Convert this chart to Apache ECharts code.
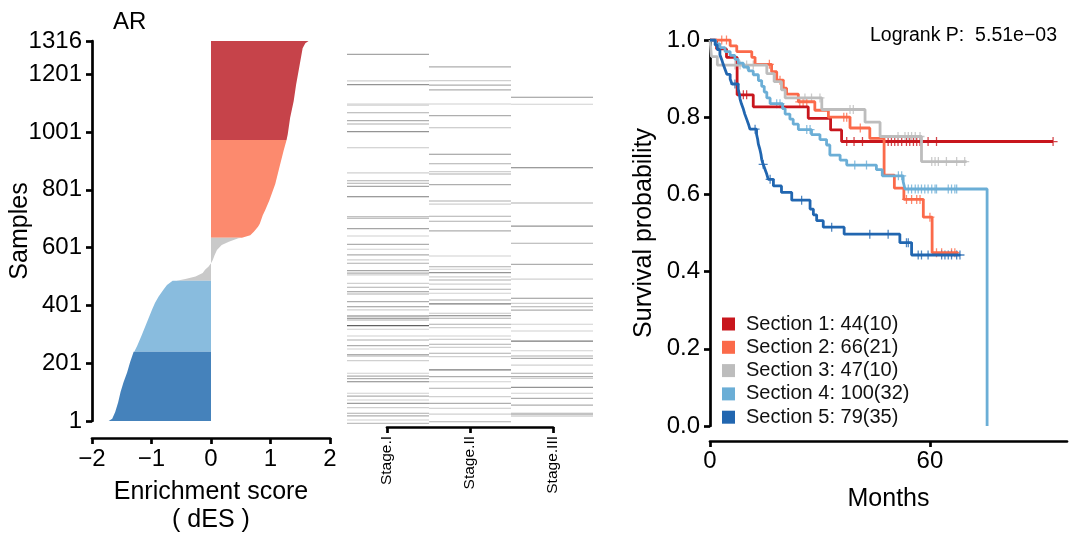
<!DOCTYPE html>
<html><head><meta charset="utf-8">
<script src="https://cdn.jsdelivr.net/npm/echarts@6/dist/echarts.min.js"></script>
<style>html,body{margin:0;padding:0;background:#fff}#c{width:1069px;height:539px}</style>
</head><body><div id="c"></div>
<script>
// ---------- labels / ticks ----------
const sectionNames = ['Section 1: 44(10)','Section 2: 66(21)','Section 3: 47(10)','Section 4: 100(32)','Section 5: 79(35)'];
const kmColors  = ['#C8161D','#FB6A4A','#BDBDBD','#6BAED6','#2166B0'];
const barColors = ['#C6434A','#FC8A6E','#C9C9C9','#89BCDE','#4582BB'];
const sampleTicks = [1,201,401,601,801,1001,1201,1316];
const stages = ['Stage.I','Stage.II','Stage.III'];
const monthTicks = [0,60];

// ---------- waterfall edge: [sample, dES] ----------
const desSection5 = [[1,-1.72],[9,-1.66],[32,-1.61],[66,-1.56],[101,-1.52],[135,-1.47],[169,-1.41],[204,-1.36],[241,-1.30]];
const desSection4 = [[241,-1.29],[261,-1.24],[295,-1.17],[341,-1.08],[387,-0.99],[410,-0.94],[432,-0.88],[455,-0.80],[472,-0.74],[486,-0.645]];
const desSection3 = [[486,-0.58],[492,-0.43],[501,-0.26],[513,-0.14],[524,-0.10],[536,-0.04],[547,0.0],[558,0.03],[575,0.06],[593,0.10],[610,0.18],[621,0.30],[633,0.46],[635,0.52]];
const desSection2 = [[635,0.52],[644,0.66],[656,0.72],[673,0.79],[684,0.82],[713,0.87],[730,0.91],[764,0.98],[821,1.08],[879,1.15],[936,1.22],[973,1.27]];
const desSection1 = [[973,1.27],[993,1.29],[1050,1.33],[1108,1.39],[1165,1.43],[1222,1.48],[1291,1.54],[1308,1.585],[1316,1.64]];

// ---------- stage heatmap: [sample, intensity] ----------
const heatStage1 = [[1311,0.5],[1217,0.25],[1204,0.6],[1135,0.25],[1131,0.25],[1104,0.45],[1076,0.45],[1064,0.45],[1037,0.6],[980,0.3],[891,0.25],[863,0.45],[854,0.45],[843,0.5],[806,0.75],[735,0.45],[730,0.45],[693,0.5],[667,0.25],[637,0.45],[620,0.25],[600,0.45],[582,0.25],[570,0.45],[544,0.5],[535,0.45],[529,0.25],[499,0.25],[485,0.45],[469,0.6],[461,0.45],[434,0.45],[416,0.6],[405,0.25],[383,0.75],[375,0.7],[369,0.45],[349,0.9],[336,0.25],[312,0.25],[298,0.45],[278,0.45],[266,0.25],[246,0.45],[241,0.45],[225,0.25],[180,0.25],[170,0.45],[161,0.45],[150,0.7],[109,0.25],[99,0.45],[85,0.25],[73,0.55],[58,0.25],[38,0.45],[29,0.45],[14,0.25],[2,0.35]];
const heatStage2 = [[1267,0.45],[1218,0.25],[1202,0.45],[1185,0.45],[1135,0.25],[1094,0.45],[1051,0.35],[957,0.6],[923,0.45],[895,0.25],[887,0.45],[849,0.45],[791,0.45],[780,0.25],[737,0.45],[719,0.45],[685,0.45],[596,0.25],[558,0.45],[549,0.25],[537,0.6],[522,0.25],[511,0.45],[496,0.25],[478,0.45],[464,0.25],[440,0.45],[426,0.75],[393,0.3],[384,0.75],[375,0.45],[354,0.45],[342,0.25],[312,0.25],[300,0.25],[283,0.45],[272,0.25],[251,0.45],[239,0.25],[192,0.75],[168,0.45],[150,0.25],[127,0.45],[97,0.25],[73,0.45],[56,0.3],[35,0.25],[8,0.45]];
const heatStage3 = [[1159,0.6],[1134,0.25],[909,0.75],[784,0.45],[702,0.6],[641,0.45],[566,0.45],[514,0.25],[446,0.6],[428,0.25],[416,0.45],[404,0.45],[354,0.25],[330,0.25],[294,0.75],[260,0.25],[241,0.45],[233,0.45],[209,0.25],[180,0.45],[168,0.45],[162,0.25],[130,0.6],[109,0.25],[91,0.45],[67,0.45],[38,0.45],[33,0.45],[28,0.25]];

// ---------- Kaplan-Meier steps: [month, survival] ----------
const km1 = [[0,1],[1.8,0.977],[4.5,0.955],[7.4,0.858],[11.8,0.827],[26.8,0.797],[32.9,0.767],[35.9,0.737],[93.6,0.737]];
const km2 = [[0,1],[5.5,0.985],[7.3,0.970],[11.4,0.955],[12.3,0.937],[16.8,0.918],[18.2,0.896],[20.0,0.875],[20.9,0.860],[24.1,0.840],[28.6,0.818],[32.3,0.800],[38.2,0.772],[43.6,0.745],[47.5,0.650],[50.3,0.616],[52.9,0.587],[58.2,0.541],[60.6,0.449],[67.7,0.449]];
const km3 = [[0,1],[0.4,0.957],[2.0,0.935],[15.5,0.913],[17.5,0.892],[19.5,0.871],[20.5,0.850],[30.5,0.820],[42.3,0.787],[46.4,0.750],[57.7,0.685],[70.0,0.685]];
const km4 = [[0,1],[1.5,0.99],[2.7,0.98],[4.1,0.97],[5.5,0.96],[6.8,0.95],[7.7,0.94],[9.1,0.93],[10.5,0.92],[11.8,0.91],[13.2,0.895],[14.1,0.88],[14.8,0.865],[15.5,0.85],[16.4,0.835],[19.8,0.822],[20.5,0.808],[21.8,0.795],[22.7,0.782],[24.1,0.768],[27.7,0.755],[30.0,0.742],[31.8,0.728],[32.7,0.702],[35.5,0.689],[37.3,0.676],[45.4,0.664],[47.0,0.648],[52.7,0.633],[53.2,0.614],[75.6,0.614],[75.6,0]];
const km5 = [[0,1],[1.4,0.987],[2.0,0.975],[2.7,0.962],[3.2,0.949],[3.6,0.937],[4.1,0.924],[4.6,0.911],[5.5,0.899],[6.0,0.886],[7.7,0.873],[8.0,0.86],[8.2,0.847],[8.6,0.834],[9.1,0.821],[9.5,0.808],[10.0,0.795],[10.5,0.782],[10.9,0.769],[12.7,0.756],[13.0,0.743],[13.2,0.730],[13.6,0.717],[13.9,0.704],[14.1,0.691],[14.5,0.678],[15.0,0.665],[15.5,0.652],[15.9,0.639],[17.3,0.622],[19.5,0.605],[22.3,0.585],[27.3,0.562],[28.2,0.547],[29.1,0.532],[30.9,0.515],[36.6,0.497],[51.8,0.475],[55.0,0.443],[68.2,0.443]];
const cens1 = [[9.1,0.858],[10.0,0.858],[37.3,0.737],[39.3,0.737],[41.6,0.737],[48.6,0.737],[49.5,0.737],[50.4,0.737],[51.3,0.737],[52.3,0.737],[53.6,0.737],[54.5,0.737],[55.5,0.737],[56.4,0.737],[57.3,0.737],[59.5,0.737],[61.8,0.737],[93.6,0.737]];
const cens2 = [[3.2,1],[4.5,1],[16.2,0.937],[19.1,0.896],[24.5,0.840],[25.4,0.840],[26.4,0.840],[36.5,0.800],[37.3,0.800],[41.0,0.772],[53.6,0.587],[55.0,0.587],[56.4,0.587],[57.3,0.587],[60.0,0.541],[61.8,0.449],[63.2,0.449],[65.9,0.449],[66.8,0.449]];
const cens3 = [[6.8,0.935],[8.2,0.935],[10.0,0.935],[11.8,0.935],[25.9,0.850],[27.7,0.850],[30.0,0.850],[38.2,0.820],[39.1,0.820],[51.3,0.750],[53.2,0.750],[54.1,0.750],[55.0,0.750],[56.0,0.750],[57.3,0.750],[60.5,0.685],[61.4,0.685],[62.3,0.685],[64.5,0.685],[67.3,0.685],[69.5,0.685]];
const cens4 = [[18.2,0.835],[19.1,0.835],[26.4,0.768],[27.3,0.768],[39.5,0.676],[42.7,0.676],[51.4,0.648],[52.3,0.648],[54.1,0.614],[55.0,0.614],[56.0,0.614],[56.8,0.614],[57.7,0.614],[58.6,0.614],[59.5,0.614],[60.5,0.614],[61.4,0.614],[61.8,0.614],[65.0,0.614],[65.9,0.614],[66.8,0.614],[67.3,0.614]];
const cens5 = [[6.8,0.886],[12.3,0.769],[14.5,0.678],[16.4,0.639],[25.0,0.585],[33.2,0.515],[43.6,0.497],[48.6,0.497],[53.6,0.475],[54.1,0.475],[56.8,0.443],[57.7,0.443],[59.5,0.443],[63.2,0.443],[64.1,0.443],[65.0,0.443],[65.9,0.443],[67.3,0.443],[68.2,0.443]];

const FONT = '"Liberation Sans", Arial, Helvetica, sans-serif';
const BLACK = '#000';
const TICK_FS = 24, TITLE_FS = 25;
const PLUS = 'path://M-0.14,-1 L0.14,-1 L0.14,-0.14 L1,-0.14 L1,0.14 L0.14,0.14 L0.14,1 L-0.14,1 L-0.14,0.14 L-1,0.14 L-1,-0.14 L-0.14,-0.14 Z';

const desSections = [desSection1, desSection2, desSection3, desSection4, desSection5];
const kmSteps = [km1, km2, km3, km4, km5];
const kmCens = [cens1, cens2, cens3, cens4, cens5];
const heatData = [];
[heatStage1, heatStage2, heatStage3].forEach((arr, c) => arr.forEach(d => heatData.push([c, d[0], d[1]])));

const axLine = {show: true, onZero: false, lineStyle: {color: BLACK, width: 2.7}};
const axTick = {show: true, length: 6, lineStyle: {color: BLACK, width: 2.7}};

const series = [];
desSections.forEach((pts, i) => {
  series.push({
    type: 'custom', xAxisIndex: 0, yAxisIndex: 0, silent: true,
    data: pts.map(p => [p[1], p[0]]),
    renderItem: function (params, api) {
      if (params.dataIndex !== 0) return null;
      const poly = [api.coord([0, pts[0][0]])];
      pts.forEach(p => poly.push(api.coord([p[1], p[0]])));
      poly.push(api.coord([0, pts[pts.length - 1][0]]));
      return {type: 'polygon', shape: {points: poly}, style: {fill: barColors[i]}};
    }
  });
});
series.push({
  type: 'custom', xAxisIndex: 1, yAxisIndex: 1, silent: true, data: heatData,
  renderItem: function (params, api) {
    const c = api.value(0), s = api.value(1), k = api.value(2);
    const a = api.coord([c - 0.5, s + 2]);
    const b = api.coord([c + 0.5, s - 2]);
    const g = Math.round(250 - 170 * k);
    return {type: 'rect', shape: {x: a[0], y: a[1], width: b[0] - a[0], height: b[1] - a[1]}, style: {fill: 'rgb(' + g + ',' + g + ',' + g + ')'}};
  }
});
kmSteps.forEach((d, i) => {
  series.push({
    name: sectionNames[i], type: 'line', xAxisIndex: 3, yAxisIndex: 3, step: 'end',
    data: d, showSymbol: false, symbol: 'none',
    itemStyle: {color: kmColors[i]}, lineStyle: {color: kmColors[i], width: 2.8}
  });
});
kmCens.forEach((d, i) => {
  series.push({
    name: sectionNames[i], type: 'scatter', xAxisIndex: 3, yAxisIndex: 3,
    data: d, symbol: PLUS, symbolSize: 9, itemStyle: {color: kmColors[i]}
  });
});

const option = {
  animation: false,
  textStyle: {fontFamily: FONT},
  grid: [
    {left: 92, top: 41, width: 238, height: 383},
    {left: 347, top: 53, width: 246, height: 371},
    {left: 387, top: 420, width: 166, height: 7},
    {left: 710, top: 40, width: 357, height: 386}
  ],
  xAxis: [
    {gridIndex: 0, type: 'value', min: -2, max: 2, interval: 1, offset: 17,
     axisLine: axLine, axisTick: axTick, splitLine: {show: false},
     axisLabel: {fontSize: TICK_FS, color: BLACK, margin: 9, fontFamily: FONT,
       formatter: v => (v < 0 ? '\u2212' + Math.abs(v) : String(v))},
     name: 'Enrichment score\n( dES )', nameLocation: 'middle', nameGap: 40, nameMoveOverlap: false,
     nameTextStyle: {fontSize: TITLE_FS, color: BLACK, lineHeight: 28, fontFamily: FONT}},
    {gridIndex: 1, type: 'value', min: -0.5, max: 2.5, show: false},
    {gridIndex: 2, type: 'value', min: 0, max: 2, interval: 1,
     axisLine: axLine, axisTick: axTick, splitLine: {show: false},
     axisLabel: {fontSize: 15.5, color: BLACK, rotate: 90, margin: 9, fontFamily: FONT,
       formatter: v => stages[v]}},
    {gridIndex: 3, type: 'value', min: 0, max: 97.4, offset: 15,
     axisLine: axLine, splitLine: {show: false},
     axisTick: Object.assign({customValues: monthTicks}, axTick),
     axisLabel: {customValues: monthTicks, fontSize: TICK_FS, color: BLACK, margin: 8, fontFamily: FONT},
     name: 'Months', nameLocation: 'middle', nameGap: 46, nameMoveOverlap: false,
     nameTextStyle: {fontSize: TITLE_FS, color: BLACK, fontFamily: FONT}}
  ],
  yAxis: [
    {gridIndex: 0, type: 'value', min: 1, max: 1316,
     axisLine: axLine, splitLine: {show: false},
     axisTick: Object.assign({customValues: sampleTicks}, axTick),
     axisLabel: {customValues: sampleTicks, fontSize: TICK_FS, color: BLACK, margin: 10, fontFamily: FONT,
       formatter: v => String(v)},
     name: 'Samples', nameLocation: 'middle', nameRotate: 90, nameGap: 59, nameMoveOverlap: false,
     nameTextStyle: {fontSize: TITLE_FS, color: BLACK, fontFamily: FONT}},
    {gridIndex: 1, type: 'value', min: 0, max: 1316, show: false},
    {gridIndex: 2, type: 'value', min: 0, max: 1, show: false},
    {gridIndex: 3, type: 'value', min: 0, max: 1, interval: 0.2,
     axisLine: axLine, axisTick: axTick, splitLine: {show: false},
     axisLabel: {fontSize: TICK_FS, color: BLACK, margin: 10, fontFamily: FONT, formatter: v => v.toFixed(1)},
     name: 'Survival probability', nameLocation: 'middle', nameRotate: 90, nameGap: 53, nameMoveOverlap: false,
     nameTextStyle: {fontSize: TITLE_FS, color: BLACK, fontFamily: FONT}}
  ],
  legend: {
    data: sectionNames.map(n => ({name: n, icon: 'rect'})),
    orient: 'vertical', left: 722, top: 314, padding: 0,
    itemWidth: 13, itemHeight: 13, itemGap: 3.3, selectedMode: false,
    textStyle: {fontSize: 20, color: '#111', lineHeight: 20, fontFamily: FONT, padding: [0, 0, 0, 6]}
  },
  graphic: [
    {type: 'text', left: 113, top: 10, style: {text: 'AR', font: '24px ' + FONT, fill: BLACK}},
    {type: 'text', right: 12, top: 26, style: {text: 'Logrank P:  5.51e\u221203', font: '19.5px ' + FONT, fill: BLACK}}
  ],
  series: series
};
const chart = echarts.init(document.getElementById('c'), null, {renderer: 'canvas'});
chart.setOption(option);
</script>
</body></html>
